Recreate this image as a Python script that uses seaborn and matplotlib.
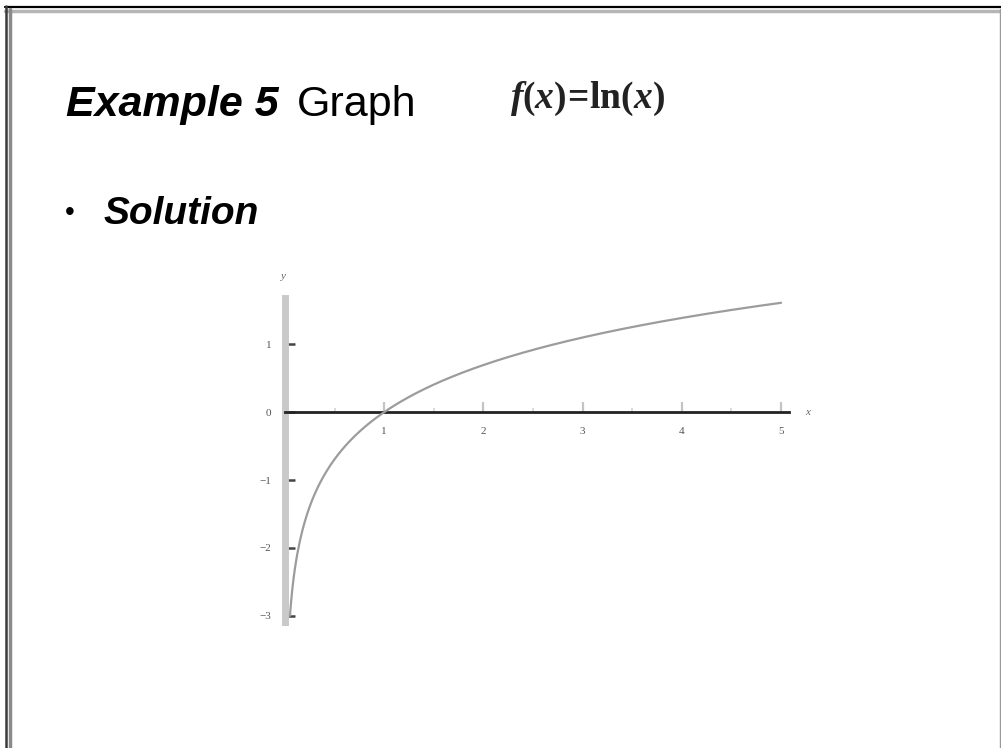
import numpy as np
import pandas as pd
import matplotlib
matplotlib.use("Agg")
import matplotlib.pyplot as plt
from matplotlib.lines import Line2D
from matplotlib.ticker import MultipleLocator, FixedLocator
import seaborn as sns

# Plotted function: f(x) = ln(x) over the visible domain
x_start = np.exp(-3.0)
x_end = 5.0
n_samples = 400
x_ticks = [1, 2, 3, 4, 5]
x_tick_labels = ["1", "2", "3", "4", "5"]
y_ticks = [1, 0, -1, -2, -3]
y_tick_labels = ["1", "0", "\u22121", "\u22122", "\u22123"]

xs = np.linspace(x_start, x_end, n_samples)
df = pd.DataFrame({"x": xs, "y": np.log(xs)})

sns.set_theme(style="white")
plt.rcParams["font.family"] = ["Liberation Sans", "DejaVu Sans"]
plt.rcParams["mathtext.fontset"] = "custom"
plt.rcParams["mathtext.it"] = "Liberation Serif:italic:bold"
plt.rcParams["mathtext.rm"] = "Liberation Serif:bold"
plt.rcParams["mathtext.bf"] = "Liberation Serif:bold"

fig = plt.figure(figsize=(10.01, 7.48), dpi=100)
fig.patch.set_facecolor("white")

# Slide frame: dark top and left edges with a soft grey inner shade
fig.add_artist(Line2D([0.005, 1.0], [1 - 7 / 748, 1 - 7 / 748], color="black", lw=1.6, transform=fig.transFigure))
fig.add_artist(Line2D([0.005, 1.0], [1 - 10.5 / 748, 1 - 10.5 / 748], color="#b5b5b5", lw=2.5, transform=fig.transFigure))
fig.add_artist(Line2D([6 / 1001, 6 / 1001], [0, 1 - 6 / 748], color="#3a3a3a", lw=1.8, transform=fig.transFigure))
fig.add_artist(Line2D([9.5 / 1001, 9.5 / 1001], [0, 1 - 9 / 748], color="#8a8a8a", lw=2.5, transform=fig.transFigure))
fig.add_artist(Line2D([1000 / 1001, 1000 / 1001], [0, 1 - 9 / 748], color="#9a9a9a", lw=1.0, transform=fig.transFigure))

# Title line
fig.text(66 / 1001, 1 - 116 / 748, "Example 5", fontsize=31, fontweight="bold", fontstyle="italic",
         color="black", ha="left", va="baseline")
fig.text(297 / 1001, 1 - 116 / 748, "Graph", fontsize=31, color="black", ha="left", va="baseline")
fig.text(510 / 1001, 1 - 108 / 748, r"$f(x)\!=\!\mathrm{ln}(x)$", fontsize=27,
         color="#222222", ha="left", va="baseline")

# Bullet line
fig.text(65 / 1001, 1 - 220 / 748, "\u2022", fontsize=20, color="black", ha="left", va="baseline")
fig.text(104 / 1001, 1 - 224 / 748, "Solution", fontsize=28, fontweight="bold", fontstyle="italic",
         color="black", ha="left", va="baseline")

# Plot area, x from 0 to ~5.08, y from ~-3.09 to ~1.68
ax = fig.add_axes([285 / 1001, (748 - 622) / 748, 504 / 1001, 324 / 748])
ax.set_facecolor("none")
sns.lineplot(data=df, x="x", y="y", ax=ax, color="#9c9c9c", lw=1.6, zorder=3)
ax.set_xlim(0, 5.08)
ax.set_ylim(-3.09, 1.68)

for side in ["top", "right"]:
    ax.spines[side].set_visible(False)
ax.spines["bottom"].set_position(("data", 0))
ax.spines["bottom"].set_color("#222222")
ax.spines["bottom"].set_linewidth(2.0)
ax.spines["left"].set_position(("data", 0))
ax.spines["left"].set_color("#c9c9c9")
ax.spines["left"].set_linewidth(5.0)

ax.xaxis.set_major_locator(FixedLocator(x_ticks))
ax.set_xticklabels(x_tick_labels)
ax.xaxis.set_minor_locator(MultipleLocator(0.5))
ax.yaxis.set_major_locator(FixedLocator(y_ticks))
ax.set_yticklabels(y_tick_labels)
ax.yaxis.set_minor_locator(MultipleLocator(0.5))

ax.tick_params(axis="x", which="major", direction="in", length=7, width=1.6, color="#c4c4c4",
               labelsize=8, labelcolor="#555555", pad=11, bottom=True)
ax.tick_params(axis="x", which="minor", direction="in", length=3, width=1.2, color="#d4d4d4", bottom=True)
ax.tick_params(axis="y", which="major", direction="in", length=7, width=1.8, color="#444444",
               labelsize=8, labelcolor="#555555", pad=10, left=True)
ax.tick_params(axis="y", which="minor", direction="in", length=3, width=1.2, color="#c8c8c8", left=True)
for lbl in ax.get_xticklabels() + ax.get_yticklabels():
    lbl.set_family("Liberation Serif")

ax.set_xlabel("")
ax.set_ylabel("")
ax.text(5.27, 0, "x", fontsize=8, fontstyle="italic", family="Liberation Serif", color="#666666",
        ha="center", va="center")
ax.text(-0.02, 2.0, "y", fontsize=8, fontstyle="italic", family="Liberation Serif", color="#666666",
        ha="center", va="center", clip_on=False)

fig.savefig("out.png", dpi=100, facecolor="white")
